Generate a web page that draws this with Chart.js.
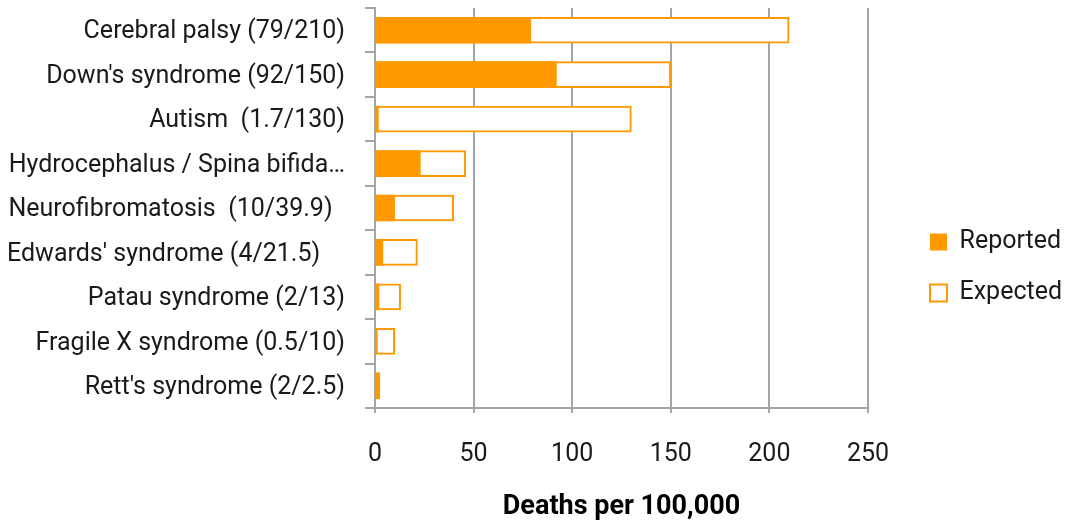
<!DOCTYPE html>
<html>
<head>
<meta charset="utf-8">
<script src="https://cdn.jsdelivr.net/npm/chart.js@4"></script>
<style>
  html, body { margin: 0; padding: 0; background: #fff; }
  canvas { display: block; }
</style>
</head>
<body>
<canvas id="chart" width="1065" height="524"></canvas>
<script>
// Conditions, with reported / expected deaths per 100,000
const categories = [
  'Cerebral palsy (79/210)',
  "Down's syndrome (92/150)",
  'Autism  (1.7/130)',
  'Hydrocephalus / Spina bifida\u2026',
  'Neurofibromatosis  (10/39.9)  ',
  "Edwards' syndrome (4/21.5)    ",
  'Patau syndrome (2/13)',
  'Fragile X syndrome (0.5/10)',
  "Rett's syndrome (2/2.5)"
];
const reported = [79, 92, 1.7, 23, 10, 4, 2, 0.5, 2];
const expected = [210, 150, 130, 46, 39.9, 21.5, 13, 10, 2.5];
const xTickValues = [0, 50, 100, 150, 200, 250];
const seriesNames = ['Reported', 'Expected'];
const axisTitle = 'Deaths per 100,000';

const ORANGE = '#FF9900';
const GRID = '#A6A6A6';
const TEXT = '#1a1a1a';
const FONT = "Roboto, 'Noto Sans', sans-serif";
const FONT_SIZE = 25;

// Legend occupies a fixed 197px column right of the plot, items inset from its left edge
const legendColumn = {
  id: 'legendColumn',
  beforeLayout(chart) {
    const lg = chart.legend;
    if (lg && !lg._fixedColumn) {
      const fit = lg.fit;
      lg.fit = function () {
        fit.call(this);
        this.width = 197;
      };
      lg._fixedColumn = true;
    }
  },
  afterLayout(chart) {
    chart.legend.left += 36;
    chart.legend.top += 3;
  }
};

new Chart(document.getElementById('chart'), {
  type: 'bar',
  data: {
    labels: categories,
    datasets: [
      {
        label: seriesNames[0],
        data: reported,
        backgroundColor: ORANGE,
        borderColor: ORANGE,
        borderWidth: 0,
        grouped: false,
        order: 0,
        barThickness: 26
      },
      {
        label: seriesNames[1],
        data: expected,
        backgroundColor: '#ffffff',
        borderColor: ORANGE,
        borderWidth: 2,
        borderSkipped: false,
        grouped: false,
        order: 1,
        barThickness: 26
      }
    ]
  },
  options: {
    indexAxis: 'y',
    responsive: false,
    animation: false,
    devicePixelRatio: 1,
    layout: { padding: { top: 8, left: 0, right: 0, bottom: 0 } },
    scales: {
      x: {
        min: 0,
        max: 250,
        afterBuildTicks(scale) {
          scale.ticks = xTickValues.map(v => ({ value: v }));
        },
        grid: { color: GRID, lineWidth: 2, tickLength: 5, drawTicks: true },
        border: { color: GRID, width: 2 },
        ticks: { font: { family: FONT, size: FONT_SIZE }, color: TEXT, padding: 27 },
        title: {
          display: true,
          text: axisTitle,
          color: '#000',
          font: { family: FONT, size: 27, weight: 'bold', lineHeight: 1.1 },
          padding: { top: 0, bottom: 1.5 }
        },
        afterFit(scale) { scale.height = 116; }
      },
      y: {
        grid: { drawOnChartArea: false, color: GRID, lineWidth: 2, tickLength: 10, offset: true },
        border: { color: GRID, width: 2 },
        ticks: {
          font: { family: FONT, size: FONT_SIZE },
          color: TEXT,
          padding: 20,
          labelOffset: 2,
          autoSkip: false
        },
        afterFit(scale) {
          scale.width = 375;
          scale.paddingTop = 0;
          scale.paddingBottom = 0;
        }
      }
    },
    plugins: {
      tooltip: { enabled: false },
      legend: {
        position: 'right',
        labels: {
          boxWidth: 17,
          boxHeight: 17,
          padding: 26,
          color: TEXT,
          font: { family: FONT, size: FONT_SIZE }
        }
      }
    }
  },
  plugins: [legendColumn]
});
</script>
</body>
</html>
